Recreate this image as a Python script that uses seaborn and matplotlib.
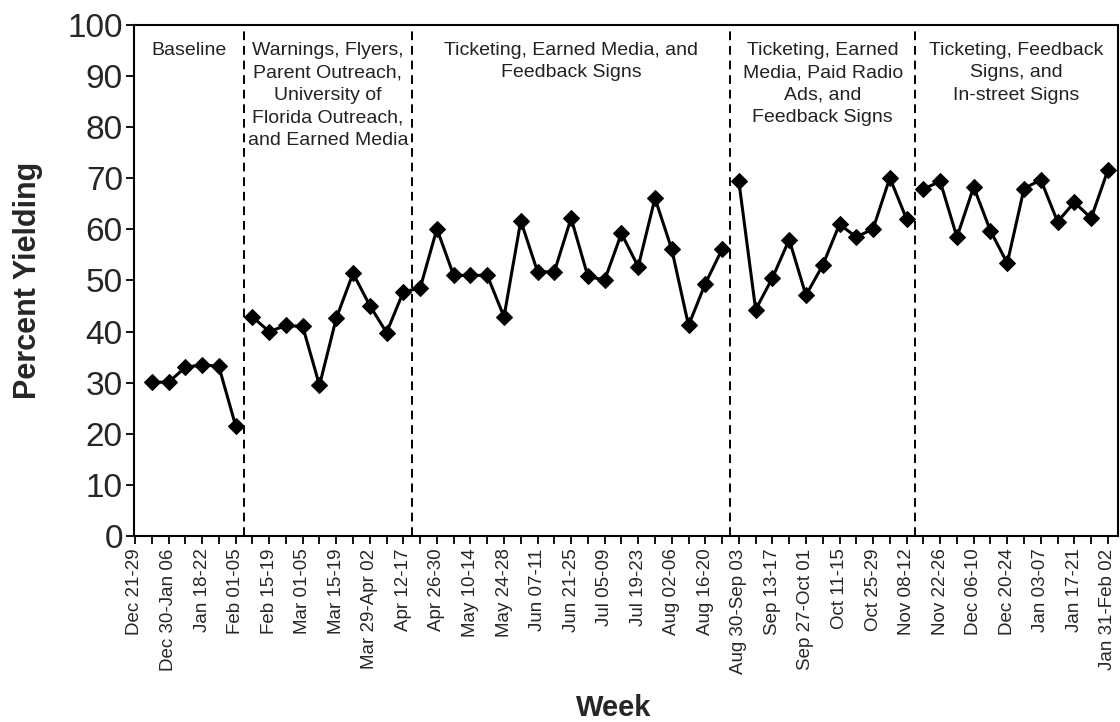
import numpy as np
import pandas as pd
import matplotlib
matplotlib.use("Agg")
import matplotlib.pyplot as plt
import seaborn as sns

# ---- data ----
week_labels = ["Dec 21-29", "Dec 30-Jan 06", "Jan 18-22", "Feb 01-05", "Feb 15-19",
               "Mar 01-05", "Mar 15-19", "Mar 29-Apr 02", "Apr 12-17", "Apr 26-30",
               "May 10-14", "May 24-28", "Jun 07-11", "Jun 21-25", "Jul 05-09",
               "Jul 19-23", "Aug 02-06", "Aug 16-20", "Aug 30-Sep 03", "Sep 13-17",
               "Sep 27-Oct 01", "Oct 11-15", "Oct 25-29", "Nov 08-12", "Nov 22-26",
               "Dec 06-10", "Dec 20-24", "Jan 03-07", "Jan 17-21", "Jan 31-Feb 02"]

percent_yielding = [30.1, 30.1, 33.0, 33.5, 33.2, 21.6,
                    42.9, 40.0, 41.2, 41.0, 29.5, 42.6, 51.4, 45.1, 39.8, 47.8,
                    48.5, 60.1, 51.0, 51.0, 51.0, 42.9, 61.7, 51.7, 51.7, 62.2,
                    50.8, 50.1, 59.2, 52.7, 66.1, 56.1, 41.2, 49.4, 56.1,
                    69.4, 44.3, 50.5, 58.0, 47.1, 53.0, 61.0, 58.5, 60.1, 70.1, 62.0,
                    67.9, 69.4, 58.5, 68.3, 59.7, 53.4, 68.0, 69.7, 61.5, 65.3, 62.2, 71.6]

phase_names = ["Baseline",
               "Warnings, Flyers,\nParent Outreach,\nUniversity of\nFlorida Outreach,\nand Earned Media",
               "Ticketing, Earned Media, and\nFeedback Signs",
               "Ticketing, Earned\nMedia, Paid Radio\nAds, and\nFeedback Signs",
               "Ticketing, Feedback\nSigns, and\nIn-street Signs"]
phase_start_weeks = [1, 7, 17, 36, 47]
line_restart_weeks = [1, 7, 36, 47]

# ---- frame ----
weeks = np.arange(1, len(percent_yielding) + 1)
run_id = np.searchsorted(line_restart_weeks, weeks, side="right")
df = pd.DataFrame({"week": weeks, "pct": percent_yielding, "run": run_id})

sns.set_style("ticks")
plt.rcParams["font.family"] = ["Liberation Sans", "DejaVu Sans"]

fig = plt.figure(figsize=(11.2, 7.22), dpi=100)
ax = fig.add_axes([0.1196, 0.2576, 0.8786, 0.7078])

sns.lineplot(data=df, x="week", y="pct", units="run", estimator=None,
             color="black", marker="D", markersize=8.5, markeredgecolor="black",
             linewidth=2.2, ax=ax, legend=False)

n_ticks = 2 * len(week_labels) - 1
ax.set_xlim(-0.06, 58.6)
ax.set_ylim(0, 100)
ax.set_xticks(np.arange(n_ticks))
ax.set_xticklabels([week_labels[i // 2] if i % 2 == 0 else "" for i in range(n_ticks)],
                   rotation=90, fontsize=13.5)
ax.set_yticks(np.arange(0, 101, 10))
ax.tick_params(axis="y", labelsize=24, length=6, width=1.3, pad=2, color="black")
ax.tick_params(axis="x", length=6, width=1.3, pad=3, color="black")

for s in ax.spines.values():
    s.set_linewidth(1.5)
    s.set_color("black")

bounds = [-0.06] + [w - 0.5 for w in phase_start_weeks[1:]] + [58.6]
for b in bounds[1:-1]:
    ax.axvline(b, color="black", linestyle=(0, (4.5, 3)), linewidth=1.4)
for i, name in enumerate(phase_names):
    xc = (bounds[i] + bounds[i + 1]) / 2
    ax.text(xc, 96.7, name, ha="center", va="top", fontsize=14, linespacing=1.42,
            color="#222222")

ax.set_ylabel("Percent Yielding", fontsize=22, fontweight="bold")
ax.yaxis.set_label_coords(-0.092, 0.5)
ax.set_xlabel("Week", fontsize=21, fontweight="bold")
ax.xaxis.set_label_coords(0.487, -0.31)

fig.savefig("out.png", dpi=100, facecolor="white")
